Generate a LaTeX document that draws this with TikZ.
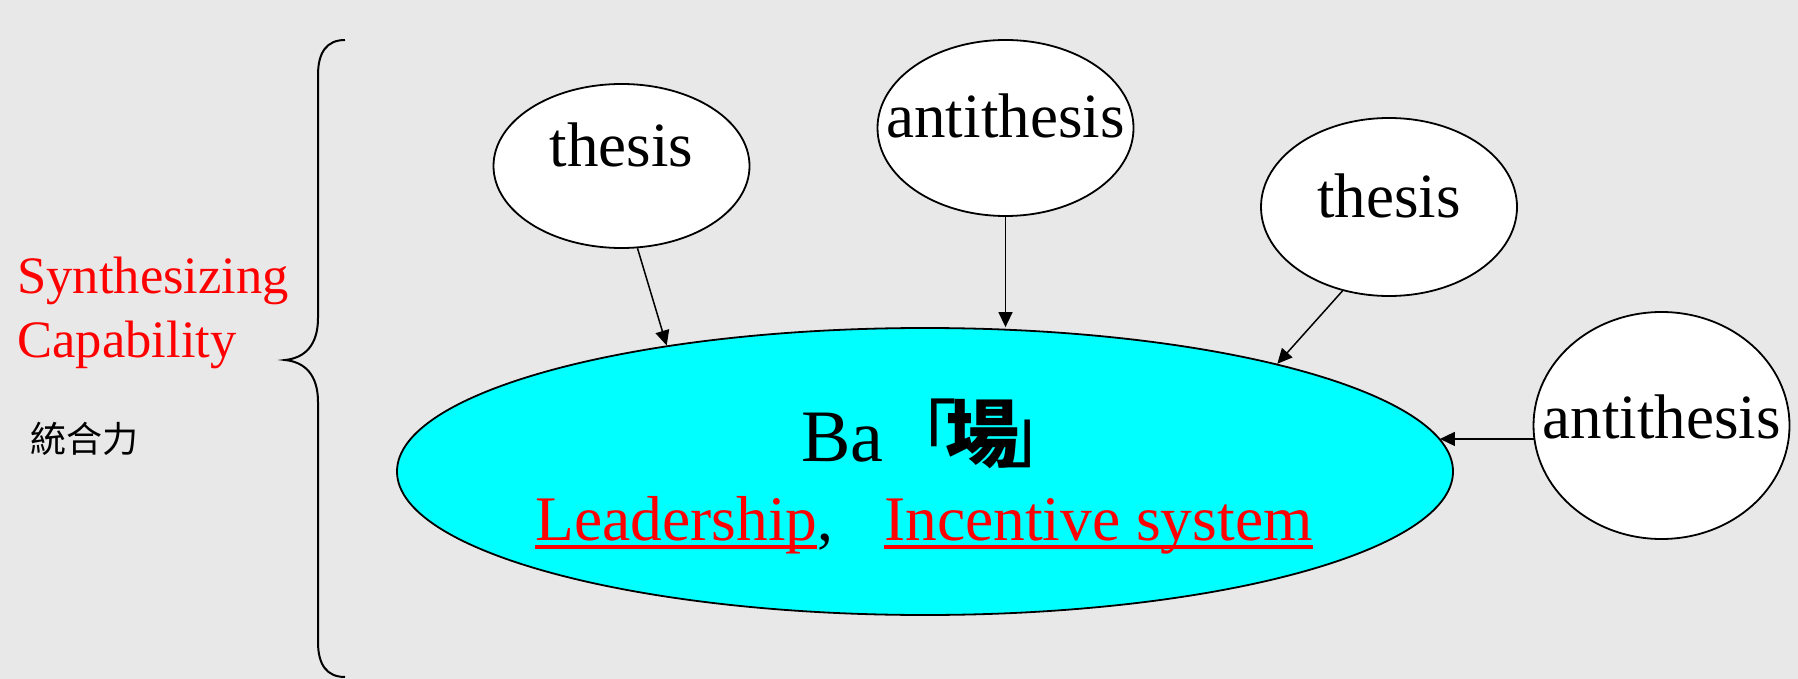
\documentclass[tikz,border=0pt]{standalone}
\usepackage{fontspec}
\setmainfont{Liberation Serif}
\newfontfamily\cjk{Noto Sans CJK TC}
\usetikzlibrary{shapes.geometric,arrows.meta,calc}

\definecolor{paper}{HTML}{E8E8E8}
\definecolor{bacyan}{HTML}{00FFFF}

% red rule under a word, drawn below the baseline
\newsavebox\ulbox
\newcommand\redul[1]{\sbox\ulbox{#1}\rlap{\raisebox{-4.5pt}{\color{red}\rule{\wd\ulbox}{2pt}}}\usebox\ulbox}

\tikzset{
  bubble/.style={ellipse, draw, line width=0.9pt, fill=white, inner sep=0pt, minimum width=128pt},
  word/.style={inner sep=0pt, font=\fontsize{31.5}{36}\selectfont},
  feed/.style={-{Triangle[length=7.5pt,width=7pt]}, line width=0.75pt}
}

\begin{document}
\begin{tikzpicture}[x=0.5pt,y=-0.5pt]
  \fill[paper] (0,0) rectangle (1798,679);
  \useasboundingbox (0,0) rectangle (1798,679);

  % the brace on the left
  \draw[line width=1pt] (345,40) .. controls (327,40) and (318,52) .. (318,75)
    -- (318,318) .. controls (318,345) and (305,358) .. (285,360)
    .. controls (305,362) and (318,375) .. (318,402)
    -- (318,642) .. controls (318,665) and (327,677) .. (345,677);
  \node[inner sep=0pt, anchor=base west, text=red, font=\fontsize{26.3}{32}\selectfont] (syn) at (17,293) {Synthesizing};
  \node[inner sep=0pt, anchor=base west, text=red, font=\fontsize{26.3}{32}\selectfont] (cap) at (17,357) {Capability};
  \node[inner sep=0pt, anchor=base west, font=\cjk\fontsize{18}{20}\selectfont] (tougou) at (30,452) {統合力};

  % Ba
  \node[ellipse, draw, fill=bacyan, line width=0.9pt, inner sep=0pt,
        minimum width=528pt, minimum height=143.5pt] (ba) at (925,471.5) {};
  \node[inner sep=0pt, anchor=base west, font=\fontsize{37}{40}\selectfont] (baname) at (801,461)
    {Ba{\cjk 「\kern-0.16em{\bfseries 場}\kern-0.2em」}};
  \node[inner sep=0pt, anchor=base west, font=\fontsize{31.75}{36}\selectfont] (bamech) at (535,540)
    {{\color{red}\redul{Leadership}},\hspace{0.8em}{\color{red}\redul{Incentive system}}};

  % thesis / antithesis
  \node[bubble, minimum height=82pt] (th1) at (621.5,166) {};
  \node[bubble, minimum height=88pt] (at1) at (1005.5,128) {};
  \node[bubble, minimum height=89pt] (th2) at (1389,207) {};
  \node[bubble, minimum height=113.5pt] (at2) at (1661.5,425.5) {};
  \node[word, anchor=base] (th1w) at ([yshift=-0.5pt]th1.center) {thesis};
  \node[word, anchor=base] (at1w) at ([yshift=-4.8pt]at1.center) {antithesis};
  \node[word, anchor=base] (th2w) at ([yshift=-5.5pt]th2.center) {thesis};
  \node[word, anchor=base] (at2w) at ([yshift=-6.25pt]at2.center) {antithesis};

  \draw[feed] (th1.-79) -- (ba.154);
  \draw[feed] (at1.south) -- (at1.south |- ba.north);
  \draw[feed] (th2.-119) -- (ba.17);
  \draw[feed] (at2.186) -- ([xshift=-7pt]ba.east |- at2.186);
\end{tikzpicture}
\end{document}
